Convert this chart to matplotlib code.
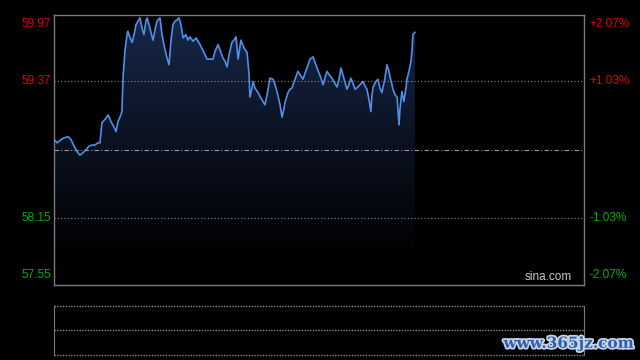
import matplotlib.pyplot as plt
import matplotlib.patheffects as pe
import numpy as np
from matplotlib.colors import LinearSegmentedColormap

# intraday minutes since open and price
minutes = [
    0, 1.4, 2.7, 4.1, 5.5, 6.4, 7.7, 9.1, 10.5, 11.8, 13.2, 14.6, 15.9, 17.3, 18.6,
    20.0, 20.9, 21.8, 23.2, 24.6, 25.9, 27.3, 28.2, 29.1, 30.0, 30.9, 31.4, 32.3,
    33.2, 33.6, 34.6, 35.5, 36.4, 37.3, 38.2, 39.1, 40.0, 40.9, 41.8, 42.3, 43.2,
    44.1, 45.0, 45.9, 46.8, 48.2, 49.1, 50.5, 51.4, 52.3, 53.2, 54.1, 55.0, 55.9,
    56.8, 57.7, 58.7, 60.0, 60.9, 61.8, 63.2, 64.6, 66.4, 67.7, 69.6, 70.9, 72.3,
    73.2, 74.6, 75.5, 76.8, 77.8, 78.7, 79.6, 80.9, 81.8, 82.8, 83.7, 85.0, 86.4,
    87.8, 88.7, 89.1, 90.0, 90.5, 91.4, 92.8, 94.1, 95.9, 96.9, 98.2, 99.6, 100.5,
    101.4, 102.8, 103.7, 104.6, 105.0, 106.4, 107.3, 108.2, 109.6, 110.9, 111.9,
    113.2, 114.6, 116.4, 117.8, 119.1, 120.0, 121.4, 122.3, 123.2, 124.1, 125.5,
    126.4, 127.8, 128.7, 129.6, 130.5, 131.9, 133.2, 134.1, 135.0, 136.0, 136.9,
    138.2, 139.6, 140.5, 141.4, 142.3, 143.2, 144.1, 144.6, 145.1, 146.4, 147.3,
    148.2, 149.1, 150.5, 151.4, 152.3, 152.8, 153.7, 154.1, 155.1, 156.0, 156.9,
    157.3, 158.2, 159.1, 160.1, 160.5, 161.4, 162.3, 162.8, 163.2, 164.1,
]
prices = [
    58.85, 58.82, 58.84, 58.86, 58.87, 58.875, 58.85, 58.79, 58.74, 58.71, 58.73,
    58.76, 58.79, 58.80, 58.80, 58.82, 58.82, 59.00, 59.03, 59.07, 59.01, 58.96,
    58.92, 59.01, 59.05, 59.10, 59.41, 59.65, 59.79, 59.82, 59.76, 59.72, 59.79,
    59.88, 59.91, 59.94, 59.85, 59.79, 59.91, 59.94, 59.88, 59.81, 59.74, 59.83,
    59.91, 59.94, 59.79, 59.65, 59.58, 59.52, 59.74, 59.88, 59.91, 59.92, 59.94,
    59.88, 59.76, 59.79, 59.74, 59.77, 59.73, 59.76, 59.70, 59.65, 59.57, 59.57,
    59.57, 59.64, 59.70, 59.65, 59.58, 59.55, 59.50, 59.61, 59.72, 59.74, 59.77,
    59.57, 59.74, 59.67, 59.63, 59.43, 59.23, 59.31, 59.37, 59.31, 59.27, 59.22,
    59.16, 59.25, 59.40, 59.39, 59.34, 59.28, 59.16, 59.05, 59.13, 59.18, 59.27,
    59.30, 59.31, 59.39, 59.46, 59.43, 59.39, 59.47, 59.57, 59.59, 59.52, 59.47,
    59.40, 59.34, 59.40, 59.46, 59.42, 59.40, 59.35, 59.32, 59.39, 59.49, 59.39,
    59.30, 59.34, 59.40, 59.35, 59.30, 59.32, 59.35, 59.37, 59.33, 59.30, 59.21,
    59.10, 59.25, 59.32, 59.37, 59.39, 59.31, 59.27, 59.40, 59.52, 59.46, 59.41,
    59.34, 59.30, 59.25, 59.23, 58.98, 59.12, 59.28, 59.19, 59.32, 59.39, 59.46,
    59.55, 59.65, 59.79, 59.81,
]

price_ticks = [59.97, 59.37, 58.15, 57.55]
pct_ticks = ["+2.07%", "+1.03%", "-1.03%", "-2.07%"]
prev_close = 58.76
y_lo, y_hi = 57.55, 59.97
session_minutes = 241

RED = "#e00000"
GREEN = "#00b000"
GRID = "#8a8a8a"

fig = plt.figure(figsize=(6.4, 3.6), dpi=100, facecolor="black")
ax = fig.add_axes([54 / 640, 1 - 284.5 / 360, 530 / 640, 270 / 360])
ax.set_facecolor("black")
ax.set_xlim(0, session_minutes)
ax.set_ylim(y_lo, y_hi)

# gradient fill under the price line
cmap = LinearSegmentedColormap.from_list("fade", ["#000000", "#0b1222", "#17284a"])
grad = np.linspace(0, 1, 256).reshape(-1, 1)
img = ax.imshow(grad, cmap=cmap, aspect="auto", origin="lower",
                extent=[0, session_minutes, 57.75, y_hi], zorder=1)
poly = ax.fill_between(minutes, prices, y_lo, color="none", lw=0)
clip = poly.get_paths()[0]
img.set_clip_path(clip, transform=ax.transData)

ax.plot(minutes, prices, color="#4f8fe8", lw=1.2, zorder=3)

# grid lines
for p in [59.37, 58.15]:
    ax.axhline(p, color=GRID, lw=0.8, ls=(0, (1, 2)), zorder=2)
ax.axhline(prev_close, color="#9a9a9a", lw=0.8, ls=(0, (4, 2, 1, 2)), zorder=2)

for s in ax.spines.values():
    s.set_color("#7a7a7a")
    s.set_linewidth(1)
ax.set_xticks([])
ax.set_yticks([])

trans_l = ax.get_yaxis_transform()
for i, (p, pct) in enumerate(zip(price_ticks, pct_ticks)):
    col = RED if p > prev_close else GREEN
    va = "top" if i == 0 else ("bottom" if i == len(price_ticks) - 1 else "center")
    off = -0.012 if i == 0 else (0.012 if i == len(price_ticks) - 1 else 0)
    ax.text(-0.006, p + off * (y_hi - y_lo), f"{p:.2f}", transform=trans_l, ha="right",
            va=va, color=col, fontsize=8.5, family="Liberation Sans")
    ax.text(1.01, p + off * (y_hi - y_lo), pct, transform=trans_l, ha="left",
            va=va, color=col, fontsize=8.5, family="Liberation Sans")

ax.text(0.978, 0.005, "sina.com", transform=ax.transAxes, ha="right", va="bottom",
        color="#c8c8c8", fontsize=8.5, family="Liberation Sans")

# volume panel (empty)
vax = fig.add_axes([54 / 640, 1 - 354.5 / 360, 530 / 640, 49 / 360])
vax.set_facecolor("black")
vax.set_xlim(0, 1)
vax.set_ylim(0, 2)
vax.set_xticks([])
vax.set_yticks([])
for side in ["top", "bottom"]:
    vax.spines[side].set_visible(False)
for side in ["left", "right"]:
    vax.spines[side].set_color("#7a7a7a")
for yv in [0, 1, 2]:
    vax.axhline(yv, color=GRID, lw=1, ls=(0, (1, 1)), clip_on=False)

fig.text(0.99, 0.045, "www.365jz.com", ha="right", va="center", color="#2d5fb0",
         fontsize=11, fontweight="bold", family="DejaVu Serif",
         path_effects=[pe.withStroke(linewidth=2.5, foreground="#c8d4e8")])

fig.savefig("out.png", dpi=100, facecolor="black")
